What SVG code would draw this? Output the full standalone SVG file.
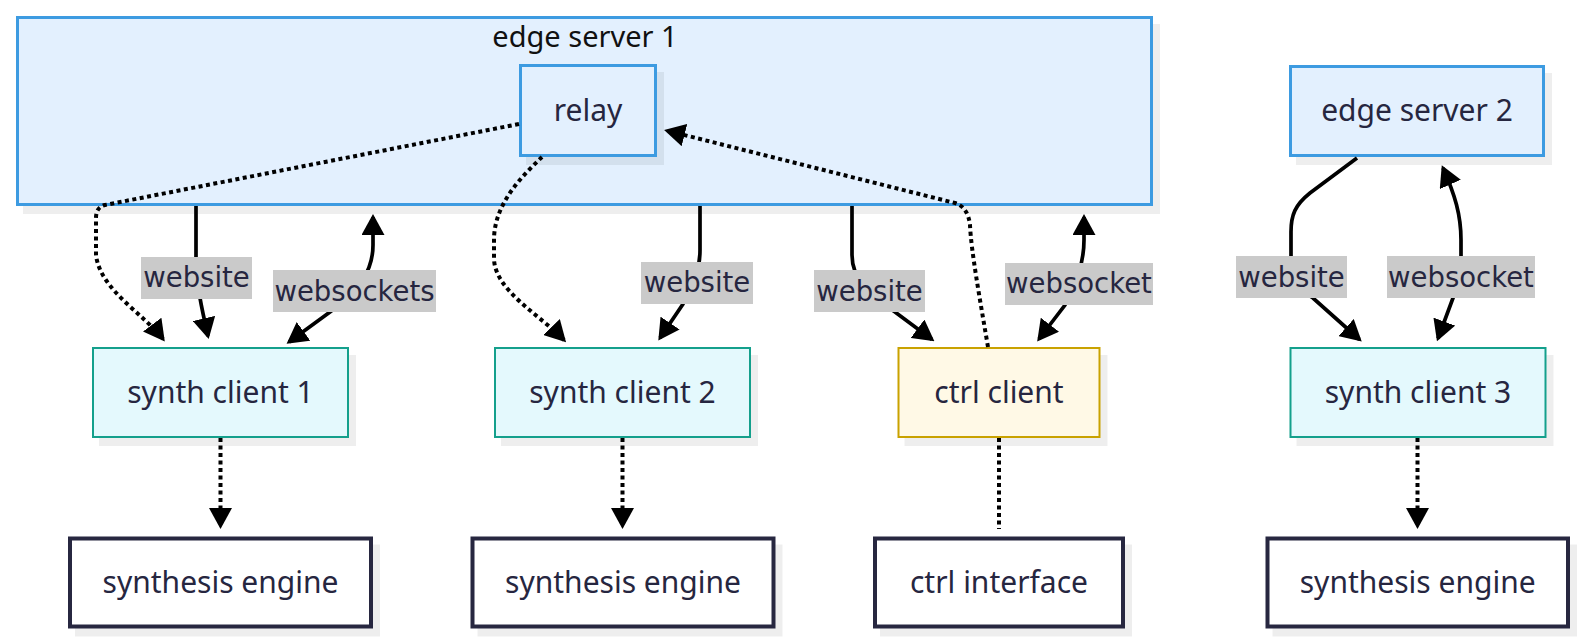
<svg xmlns="http://www.w3.org/2000/svg" width="1585" height="644" viewBox="0 0 1585 644">
<style>
.shadow{fill:#000;fill-opacity:0.065}
.server{fill:#e3f0fe;stroke:#3d9be1;stroke-width:3}
.client{fill:#e4f9fd;stroke:#14a08c;stroke-width:2}
.ctrl{fill:#fff9e6;stroke:#c9a200;stroke-width:2}
.engine{fill:#ffffff;stroke:#272740;stroke-width:4}
.nt{font-family:"Noto Sans","Liberation Sans",sans-serif;font-size:30px;fill:#262640;text-anchor:middle}
.title{font-family:"Noto Sans","Liberation Sans",sans-serif;font-size:29px;fill:#111111;text-anchor:middle}
.conn{fill:none;stroke:#000;stroke-width:3.7}
.dot{stroke-width:4;stroke-dasharray:4 3.5}
.lbg{fill:#cacaca}
.lt{font-family:"DejaVu Sans","Liberation Sans",sans-serif;font-size:27.5px;fill:#262640;text-anchor:middle}
</style>
<defs>
<marker id="ah" viewBox="0 0 21 23" refX="18" refY="11.5" markerWidth="21" markerHeight="23" markerUnits="userSpaceOnUse" orient="auto-start-reverse">
<path d="M0,0 L21,11.5 L0,23 z" fill="#000"/>
</marker>
</defs>
<rect width="1585" height="644" fill="#ffffff"/>

<g id="edge-server-1">
<rect class="shadow" x="23" y="24" width="1137" height="190"/>
<rect class="server" x="17.5" y="17.5" width="1134" height="187"/>
<text class="title" x="585" y="47">edge server 1</text>
</g>

<g id="relay">
<rect class="shadow" x="526" y="72" width="138" height="93"/>
<rect class="server" x="520.5" y="65.5" width="135" height="90"/>
<text class="nt" x="588" y="121">relay</text>
</g>

<g id="edge-server-2">
<rect class="shadow" x="1296" y="73" width="256" height="92"/>
<rect class="server" x="1290.5" y="66.5" width="253" height="89"/>
<text class="nt" x="1417" y="121">edge server 2</text>
</g>

<g id="synth-client-1">
<rect class="shadow" x="99" y="355" width="257" height="91"/>
<rect class="client" x="93" y="348" width="255" height="89"/>
<text class="nt" x="220.5" y="402.5">synth client 1</text>
</g>

<g id="synth-client-2">
<rect class="shadow" x="501" y="355" width="257" height="91"/>
<rect class="client" x="495" y="348" width="255" height="89"/>
<text class="nt" x="622.5" y="402.5">synth client 2</text>
</g>

<g id="ctrl-client">
<rect class="shadow" x="904.5" y="355" width="203" height="91"/>
<rect class="ctrl" x="898.5" y="348" width="201" height="89"/>
<text class="nt" x="999" y="402.5">ctrl client</text>
</g>

<g id="synth-client-3">
<rect class="shadow" x="1296.5" y="355" width="257" height="91"/>
<rect class="client" x="1290.5" y="348" width="255" height="89"/>
<text class="nt" x="1418" y="402.5">synth client 3</text>
</g>

<g id="synthesis-engine-1">
<rect class="shadow" x="75" y="544.5" width="305" height="92"/>
<rect class="engine" x="70" y="538.5" width="301" height="88"/>
<text class="nt" x="220.5" y="593">synthesis engine</text>
</g>

<g id="synthesis-engine-2">
<rect class="shadow" x="477.5" y="544.5" width="305" height="92"/>
<rect class="engine" x="472.5" y="538.5" width="301" height="88"/>
<text class="nt" x="623" y="593">synthesis engine</text>
</g>

<g id="ctrl-interface">
<rect class="shadow" x="880" y="544.5" width="252" height="92"/>
<rect class="engine" x="875" y="538.5" width="248" height="88"/>
<text class="nt" x="999" y="593">ctrl interface</text>
</g>

<g id="synthesis-engine-3">
<rect class="shadow" x="1272.5" y="544.5" width="304.5" height="92"/>
<rect class="engine" x="1267.5" y="538.5" width="300.5" height="88"/>
<text class="nt" x="1417.7" y="593">synthesis engine</text>
</g>

<g id="connectors">
<path class="conn dot" d="M519,124 L105,205 Q96,207 96,218 L96,255 C100,290 145,315 163,339" marker-end="url(#ah)"/>
<path class="conn dot" d="M542,157 C520,178 494,205 494,240 L494,258 C494,290 540,315 564,340" marker-end="url(#ah)"/>
<path class="conn dot" d="M988,347 C980,300 971,250 970,225 Q968,207 955,203 L667,130.7" marker-end="url(#ah)"/>
<path class="conn" d="M196,206 L196,258 C196,283 202,310 208,336" marker-end="url(#ah)"/>
<path class="conn" d="M373,217 L373,245 C373,270 360,290 330,312 L289,342" marker-start="url(#ah)" marker-end="url(#ah)"/>
<path class="conn" d="M700,206 L700,250 C700,275 690,290 683,304 L660,338" marker-end="url(#ah)"/>
<path class="conn" d="M852,206 L852,255 C852,280 870,295 895,312 L932,339.5" marker-end="url(#ah)"/>
<path class="conn" d="M1084,217 L1084,240 C1084,265 1075,285 1065,305 L1039,339" marker-start="url(#ah)" marker-end="url(#ah)"/>
<path class="conn" d="M1357,158 L1310,193 C1295,205 1291,215 1291,232 L1291,265 C1291,280 1300,290 1313,298 L1359.5,339.5" marker-end="url(#ah)"/>
<path class="conn" d="M1443,168 C1455,195 1461,215 1461,240 L1461,258 C1461,275 1458,285 1453,298 L1438,338.5" marker-start="url(#ah)" marker-end="url(#ah)"/>
<path class="conn dot" d="M220.5,438 L220.5,526" marker-end="url(#ah)"/>
<path class="conn dot" d="M622.5,438 L622.5,526" marker-end="url(#ah)"/>
<path class="conn dot" d="M999,438 L999,529"/>
<path class="conn dot" d="M1417.5,438 L1417.5,526" marker-end="url(#ah)"/>

<g id="edge-labels">
<rect class="lbg" x="141" y="257" width="111" height="42"/>
<text class="lt" x="196.5" y="287">website</text>
<rect class="lbg" x="273" y="270" width="163" height="42"/>
<text class="lt" x="354.5" y="300.5">websockets</text>
<rect class="lbg" x="641" y="262" width="112" height="42"/>
<text class="lt" x="697" y="292">website</text>
<rect class="lbg" x="814" y="270" width="111" height="42"/>
<text class="lt" x="869.5" y="300.5">website</text>
<rect class="lbg" x="1005" y="263" width="148" height="42"/>
<text class="lt" x="1079" y="293">websocket</text>
<rect class="lbg" x="1236" y="256" width="111" height="42"/>
<text class="lt" x="1291.5" y="286.5">website</text>
<rect class="lbg" x="1387" y="256" width="148" height="42"/>
<text class="lt" x="1461" y="286.5">websocket</text>
</g>
</g>
</svg>
